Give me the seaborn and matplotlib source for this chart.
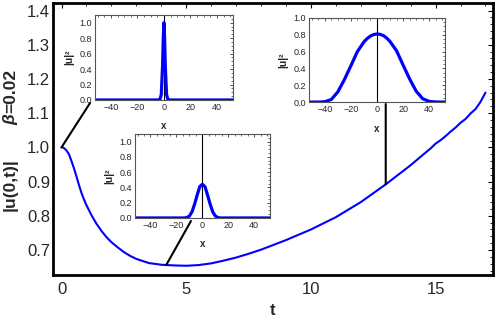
import numpy as np
import pandas as pd
import matplotlib
matplotlib.use("Agg")
import matplotlib.pyplot as plt
import seaborn as sns
from matplotlib.patches import ConnectionPatch
from matplotlib import transforms
from matplotlib.ticker import MultipleLocator

# ---------------------------------------------------------------
# data
# ---------------------------------------------------------------
# main curve |u(0,t)|
t_vals = [0.0, 0.05, 0.1, 0.2, 0.3, 0.4, 0.5, 0.6, 0.7, 0.8, 0.9, 1.0,
          1.2, 1.4, 1.6, 1.8, 2.0, 2.25, 2.5, 2.75, 3.0, 3.5,
          4.0, 4.5, 5.0, 5.5, 6.0, 6.5, 7.0, 7.5, 8.0, 9.0, 10.0, 11.0,
          12.0, 13.0, 14.0, 14.6, 14.8, 15.0, 15.2, 15.4, 15.6, 15.8,
          16.0, 16.2, 16.4, 16.6, 16.8, 17.0]
amp_vals = [1.000, 1.000, 0.998, 0.991, 0.980, 0.960, 0.939, 0.915, 0.890,
            0.867, 0.848, 0.831, 0.802, 0.777, 0.756, 0.738, 0.723, 0.708,
            0.694, 0.683, 0.674, 0.662, 0.657, 0.655, 0.654, 0.656, 0.661,
            0.669, 0.678, 0.689, 0.701, 0.729, 0.760, 0.796, 0.840, 0.892,
            0.948, 0.985, 0.997, 1.011, 1.021, 1.033, 1.046, 1.058, 1.072,
            1.083, 1.099, 1.112, 1.133, 1.160]

# times of the three |u|^2 snapshots
snap_t = [0.0, 4.2, 13.0]

# snapshot at t = 0
x_snap0 = [-52, -4, -3, -2, -1, -0.5, 0, 0.5, 1, 2, 3, 4, 52]
u2_snap0 = [0, 0, 0.005, 0.07, 0.45, 0.8, 1.0, 0.8, 0.45, 0.07, 0.005, 0, 0]

# snapshot at t = 4.2
x_snap1 = [-52, -14, -12, -10, -8, -6, -4, -2, 0, 2, 4, 6, 8, 10, 12, 14, 52]
u2_snap1 = [0, 0, 0.005, 0.025, 0.08, 0.18, 0.30, 0.41, 0.44, 0.41, 0.30,
            0.18, 0.08, 0.025, 0.005, 0, 0]

# snapshot at t = 13
x_snap2 = [-52, -50, -45, -40, -35, -30, -25, -20, -15, -10, -7.5, -5, -2.5,
           0, 2.5, 5, 7.5, 10, 15, 20, 25, 30, 35, 40, 45, 50, 52]
u2_snap2 = [0, 0, 0.0, 0.004, 0.03, 0.12, 0.265, 0.43, 0.60, 0.715, 0.755,
            0.785, 0.803, 0.81, 0.805, 0.79, 0.76, 0.72, 0.61, 0.44, 0.275,
            0.13, 0.04, 0.008, 0.001, 0, 0]

main_xticks = [0, 5, 10, 15]
main_yticks = [0.7, 0.8, 0.9, 1.0, 1.1, 1.2, 1.3, 1.4]
inset_xticks = [-40, -20, 0, 20, 40]
inset_yticks = [0.0, 0.2, 0.4, 0.6, 0.8, 1.0]

BLUE = "#0000ff"

sns.set_style("white")
plt.rcParams["font.family"] = ["Liberation Sans", "DejaVu Sans"]

fig = plt.figure(figsize=(4.96, 3.21), dpi=100)
ax = fig.add_axes([0.1069, 0.1433, 0.887, 0.8474])

main_df = pd.DataFrame({"t": t_vals, "amp": amp_vals})
sns.lineplot(data=main_df, x="t", y="amp", ax=ax, color=BLUE, lw=1.5)

ax.set_xlim(-0.34, 17.3)
ax.set_ylim(0.627, 1.422)
ax.set_xticks(main_xticks)
ax.set_yticks(main_yticks)
ax.set_yticklabels([f"{v:.1f}" for v in main_yticks])
ax.xaxis.set_minor_locator(MultipleLocator(1))
ax.yaxis.set_minor_locator(MultipleLocator(0.02))
ax.tick_params(which="both", direction="in", top=True, right=True,
               labelsize=12, color="black")
ax.tick_params(which="major", length=3.5, width=0.8)
ax.tick_params(which="minor", length=2, width=0.6)
ax.tick_params(axis="x", pad=5)
ax.tick_params(axis="y", pad=2)
for sp in ax.spines.values():
    sp.set_linewidth(2.0)
    sp.set_color("black")
ax.set_xlabel("t", fontsize=12, fontweight="bold", labelpad=4)
ax.set_ylabel("")

# y label pieces (beta in italic)
fig.text(0.021, 0.424, "|u(0,t)|", rotation=90, ha="center", va="center",
         fontsize=12.5, fontweight="bold")
fig.text(0.021, 0.626, "β", rotation=90, ha="center", va="center",
         fontsize=12.5, fontweight="bold", fontstyle="italic")
fig.text(0.021, 0.718, "=0.02", rotation=90, ha="center", va="center",
         fontsize=12.5, fontweight="bold")


def draw_inset(rect, xs, ys, ytop):
    axi = fig.add_axes(rect)
    sns.lineplot(x=xs, y=ys, ax=axi, color=BLUE, lw=2.3)
    axi.axvline(0, color="black", lw=0.8, zorder=1)
    axi.set_xlim(-52, 52)
    axi.set_ylim(0, ytop)
    axi.set_xticks(inset_xticks)
    axi.set_xticklabels(["\u221240", "\u221220", "0", "20", "40"])
    axi.set_yticks(inset_yticks)
    axi.set_yticklabels([f"{v:.1f}" for v in inset_yticks])
    axi.xaxis.set_minor_locator(MultipleLocator(5))
    axi.yaxis.set_minor_locator(MultipleLocator(0.05))
    axi.tick_params(which="both", direction="in", top=True, right=True,
                    labelsize=6.5, pad=2, color="#333333")
    axi.tick_params(which="major", length=2.2, width=0.6)
    axi.tick_params(which="minor", length=1.2, width=0.5)
    for sp in axi.spines.values():
        sp.set_linewidth(0.8)
        sp.set_color("#555555")
    axi.set_xlabel("x", fontsize=7, fontweight="bold", labelpad=7)
    axi.set_ylabel("|u|²", fontsize=7.5, fontweight="bold", labelpad=4)
    return axi


ins0 = draw_inset([0.1915, 0.6885, 0.278, 0.265], x_snap0, u2_snap0, 1.1)
ins1 = draw_inset([0.272, 0.321, 0.272, 0.262], x_snap1, u2_snap1, 1.1)
ins2 = draw_inset([0.623, 0.682, 0.274, 0.262], x_snap2, u2_snap2, 1.0)

# connectors from curve to the snapshot insets
snap_amp = np.interp(snap_t, t_vals, amp_vals)
blend = transforms.blended_transform_factory(ax.transData, fig.transFigure)
ends = [((0.1815, 0.679), fig.transFigure),
        ((0.385, 0.3115), fig.transFigure),
        ((snap_t[2], 0.676), blend)]
for tt, aa, (xy_end, tr) in zip(snap_t, snap_amp, ends):
    con = ConnectionPatch(xyA=(tt, aa), coordsA=ax.transData,
                          xyB=xy_end, coordsB=tr, color="black", lw=1.5,
                          zorder=5)
    fig.add_artist(con)

fig.savefig("out.png", dpi=100)
